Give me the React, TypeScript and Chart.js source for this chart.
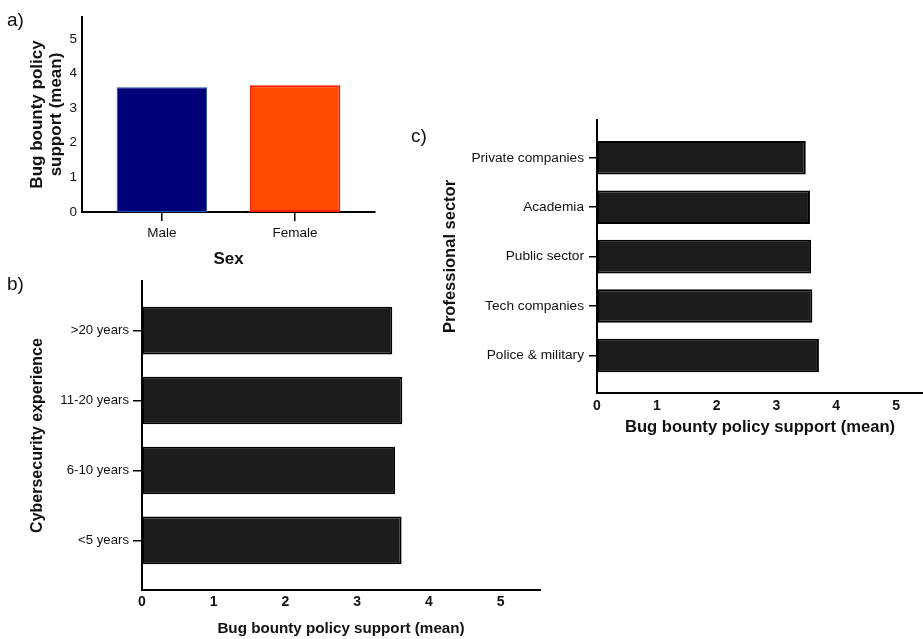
import React, { useEffect, useRef } from 'react';
import { Chart, registerables } from 'chart.js';

Chart.register(...registerables);

const FONT = '"Liberation Sans", Arial, Helvetica, sans-serif';

// Panel a) – Sex
const sexLabels = ['Male', 'Female'];
const sexValues = [3.6, 3.66];
const sexColors = ['#000078', '#ff4800'];
const sexBorders = ['#1f4fa8', '#ff1e00'];

// Panel b) – Cybersecurity experience
const experienceLabels = ['>20 years', '11-20 years', '6-10 years', '<5 years'];
const experienceValues = [3.49, 3.63, 3.53, 3.62];

// Panel c) – Professional sector
const sectorLabels = ['Private companies', 'Academia', 'Public sector', 'Tech companies', 'Police & military'];
const sectorValues = [3.49, 3.56, 3.58, 3.6, 3.71];

// Value-axis tick marks (mean support scale)
const valueTicks = [0, 1, 2, 3, 4, 5];

const supportTitle = 'Bug bounty policy support (mean)';
const BAR_FILL = '#1c1c1c';
const INK = '#111111';

const indexTicks = (labels: string[]) => (s: any) => {
  s.ticks = labels.map((_, i) => ({ value: i }));
};
const valueTickBuilder = (s: any) => {
  s.ticks = valueTicks.map((v) => ({ value: v }));
};

function sexConfig(): any {
  return {
    type: 'bar',
    data: {
      datasets: [
        {
          data: sexValues.map((v, i) => ({ x: i, y: v })),
          backgroundColor: sexColors,
          borderColor: sexBorders,
          borderWidth: [1, 2],
          borderSkipped: false,
          barPercentage: 0.68,
          categoryPercentage: 1,
        },
      ],
    },
    options: {
      animation: false,
      responsive: false,
      events: [],
      layout: { padding: { top: 17, right: 15, bottom: 0, left: 0 } },
      plugins: { legend: { display: false }, tooltip: { enabled: false } },
      scales: {
        x: {
          type: 'linear',
          offset: false,
          min: -0.6,
          max: 1.6,
          bounds: 'data',
          afterBuildTicks: indexTicks(sexLabels),
          afterFit: (s: any) => {
            s.height = 63;
          },
          ticks: {
            autoSkip: false,
            maxRotation: 0,
            padding: 4,
            color: INK,
            font: { family: FONT, size: 13.5 },
            callback: (v: any) => sexLabels[Math.round(v)] ?? '',
          },
          grid: { offset: false, drawOnChartArea: false, drawTicks: true, tickLength: 9, color: '#000', lineWidth: 1.5 },
          border: { display: true, color: '#000', width: 2 },
          title: {
            display: true,
            text: 'Sex',
            color: INK,
            font: { family: FONT, size: 17, weight: 'bold' },
            padding: { top: 0, bottom: 5 },
          },
        },
        y: {
          type: 'linear',
          min: 0,
          max: 5.63,
          bounds: 'data',
          afterBuildTicks: valueTickBuilder,
          afterFit: (s: any) => {
            s.width = 82;
          },
          ticks: {
            padding: 5,
            color: INK,
            font: { family: FONT, size: 13.5 },
          },
          grid: { display: false, drawTicks: false },
          border: { display: true, color: '#000', width: 2 },
          title: {
            display: true,
            text: ['Bug bounty policy', 'support (mean)'],
            color: INK,
            font: { family: FONT, size: 17, weight: 'bold', lineHeight: 1.12 },
            padding: { top: 28, bottom: 0 },
          },
        },
      },
    },
  };
}

function hbarConfig(p: {
  labels: string[];
  values: number[];
  yMin: number;
  yMax: number;
  xMax: number;
  yWidth: number;
  xHeight: number;
  padTop: number;
  padRight: number;
  catFont: number;
  tickLen: number;
  catPad: number;
  yTitle: string;
  yTitleSize: number;
  yTitlePad: number;
  xTitleSize: number;
  xTitlePadBottom: number;
  numPad: number;
}): any {
  return {
    type: 'bar',
    data: {
      datasets: [
        {
          data: p.values.map((v, i) => ({ x: v, y: i })),
          backgroundColor: BAR_FILL,
          borderColor: '#000',
          borderWidth: 2,
          borderSkipped: false,
          barPercentage: 0.68,
          categoryPercentage: 1,
        },
      ],
    },
    options: {
      indexAxis: 'y',
      animation: false,
      responsive: false,
      events: [],
      layout: { padding: { top: p.padTop, right: p.padRight, bottom: 0, left: 0 } },
      plugins: { legend: { display: false }, tooltip: { enabled: false } },
      scales: {
        x: {
          type: 'linear',
          min: 0,
          max: p.xMax,
          bounds: 'data',
          afterBuildTicks: valueTickBuilder,
          afterFit: (s: any) => {
            s.height = p.xHeight;
          },
          ticks: {
            maxRotation: 0,
            padding: p.numPad,
            color: INK,
            font: { family: FONT, size: 14, weight: 'bold' },
          },
          grid: { display: false, drawTicks: false },
          border: { display: true, color: '#000', width: 2 },
          title: {
            display: true,
            text: supportTitle,
            color: INK,
            font: { family: FONT, size: p.xTitleSize, weight: 'bold' },
            padding: { top: 0, bottom: p.xTitlePadBottom },
          },
        },
        y: {
          type: 'linear',
          offset: false,
          reverse: true,
          min: p.yMin,
          max: p.yMax,
          bounds: 'data',
          afterBuildTicks: indexTicks(p.labels),
          afterFit: (s: any) => {
            s.width = p.yWidth;
          },
          ticks: {
            autoSkip: false,
            padding: p.catPad,
            color: INK,
            font: { family: FONT, size: p.catFont },
            callback: (v: any) => p.labels[Math.round(v)] ?? '',
          },
          grid: {
            offset: false,
            drawOnChartArea: false,
            drawTicks: true,
            tickLength: p.tickLen,
            color: '#000',
            lineWidth: 1.5,
          },
          border: { display: true, color: '#000', width: 2 },
          title: {
            display: true,
            text: p.yTitle,
            color: INK,
            font: { family: FONT, size: p.yTitleSize, weight: 'bold', lineHeight: 1.2 },
            padding: { top: p.yTitlePad, bottom: 0 },
          },
        },
      },
    },
  };
}

function ChartCanvas({ config, left, top, width, height }: any) {
  const ref = useRef<HTMLCanvasElement | null>(null);
  useEffect(() => {
    if (!ref.current) return;
    const chart = new Chart(ref.current, config);
    return () => chart.destroy();
  }, []);
  return (
    <canvas
      ref={ref}
      width={width}
      height={height}
      style={{ position: 'absolute', left, top, width, height, display: 'block' }}
    />
  );
}

const panelLabel = (text: string, left: number, top: number) => (
  <div
    style={{
      position: 'absolute',
      left,
      top,
      fontFamily: FONT,
      fontSize: 19,
      lineHeight: '20px',
      color: INK,
    }}
  >
    {text}
  </div>
);

export default function App() {
  return (
    <div
      style={{
        position: 'absolute',
        left: 0,
        top: 0,
        width: 923,
        height: 639,
        overflow: 'hidden',
        background: '#ffffff',
      }}
    >
      <ChartCanvas config={sexConfig()} left={0} top={0} width={390} height={275} />
      <ChartCanvas
        config={hbarConfig({
          labels: experienceLabels,
          values: experienceValues,
          yMin: -0.71,
          yMax: 3.71,
          xMax: 5.55,
          yWidth: 142,
          xHeight: 49,
          padTop: 26,
          padRight: 20,
          catFont: 13.2,
          tickLen: 9,
          catPad: 4,
          yTitle: 'Cybersecurity experience',
          yTitleSize: 16,
          yTitlePad: 28,
          xTitleSize: 15.2,
          xTitlePadBottom: 1,
          numPad: 4,
        })}
        left={0}
        top={255}
        width={560}
        height={384}
      />
      <ChartCanvas
        config={hbarConfig({
          labels: sectorLabels,
          values: sectorValues,
          yMin: -0.765,
          yMax: 4.76,
          xMax: 5.45,
          yWidth: 197,
          xHeight: 57,
          padTop: 25,
          padRight: 0,
          catFont: 13.7,
          tickLen: 8,
          catPad: 5,
          yTitle: 'Professional sector',
          yTitleSize: 16.5,
          yTitlePad: 41,
          xTitleSize: 16.6,
          xTitlePadBottom: 13,
          numPad: 5,
        })}
        left={400}
        top={95}
        width={523}
        height={355}
      />
      {panelLabel('a)', 7, 10)}
      {panelLabel('b)', 7, 274)}
      {panelLabel('c)', 411, 126)}
    </div>
  );
}
